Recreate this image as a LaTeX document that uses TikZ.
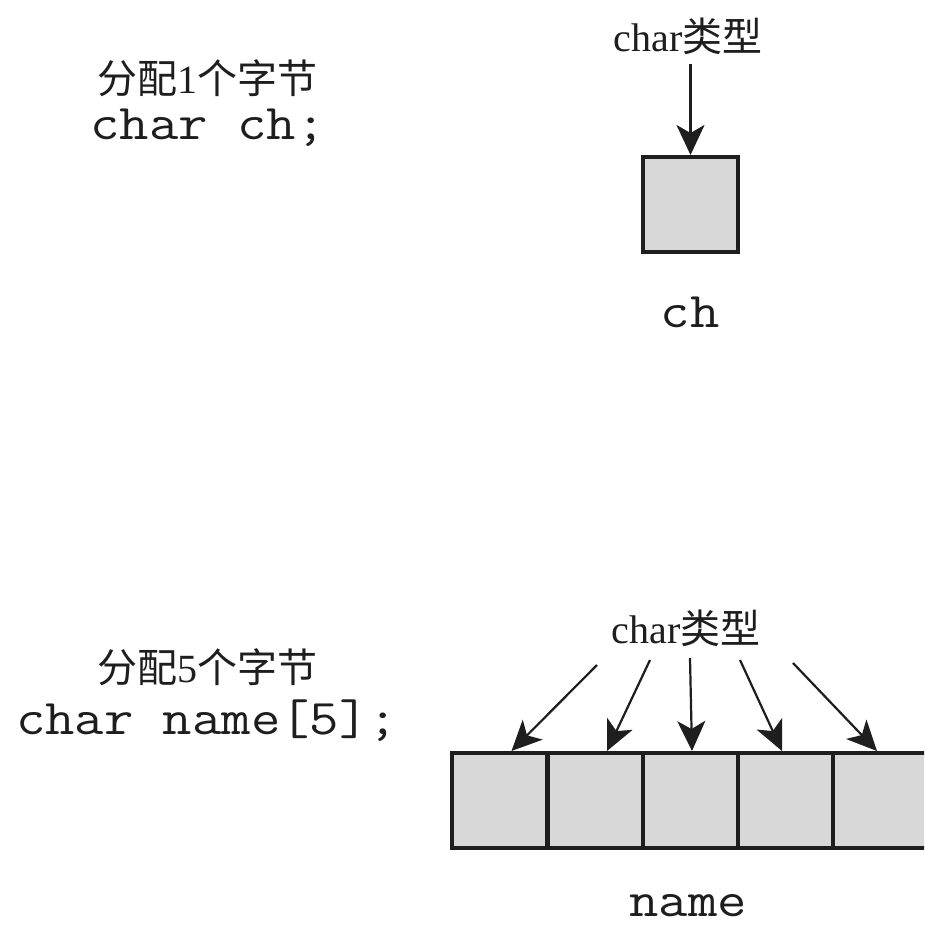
\documentclass[tikz,border=0pt]{standalone}
\usepackage{fontspec}
\setmainfont{Liberation Serif}
\setmonofont{Latin Modern Mono}[FakeStretch=1.14]
\newfontfamily\cjk{Noto Sans CJK SC}
\usetikzlibrary{arrows.meta}
\definecolor{cellgray}{HTML}{D8D8D8}
\definecolor{ink}{HTML}{1E1E1E}
\tikzset{
  cell/.style={draw=ink, fill=cellgray, line width=4pt, minimum size=95pt, inner sep=0pt},
  arr/.style={draw=ink, line width=2.2pt, -{Stealth[length=30pt,width=28pt,inset=8pt]}},
  lbl/.style={text=ink, font=\fontsize{40}{44}\selectfont, inner sep=0pt},
  code/.style={text=ink, font=\fontsize{50}{54}\selectfont\ttfamily, inner sep=0pt}
}
\begin{document}
\begin{tikzpicture}[x=1pt,y=-1pt]
\useasboundingbox (0,0) rectangle (924,929);
\clip (0,0) rectangle (924,929);
\fill[white] (0,0) rectangle (924,929);
% top part
\node[lbl] (t1) at (688,36) {char{\cjk 类型}};
\node[lbl] (h1) at (207,78) {{\cjk 分配}1{\cjk 个字节}};
\node[code] (d1) at (208,128) {char ch;};
\node[cell] (b) at (690.5,204.5) {};
\node[code] (n1) at (690,312) {ch};
\coordinate (a0) at (690.5,64);
\draw[arr] (a0) -- (b.north);
% bottom part
\node[lbl] (t2) at (686,628) {char{\cjk 类型}};
\node[lbl] (h2) at (207,667) {{\cjk 分配}5{\cjk 个字节}};
\node[code] (d2) at (207,721) {char name[5];};
\node[cell] (c1) at (499.5,800.5) {};
\node[cell] (c2) at (595,800.5) {};
\node[cell] (c3) at (690.5,800.5) {};
\node[cell] (c4) at (785.5,800.5) {};
\node[cell] (c5) at (880.5,800.5) {};
\node[code] (n2) at (688,906) {name};
\coordinate (s1) at (597,665);
\coordinate (s2) at (650,660);
\coordinate (s3) at (690,658);
\coordinate (s4) at (740,660);
\coordinate (s5) at (793,663);
\draw[arr] (s1) -- ([xshift=12pt]c1.north);
\draw[arr] (s2) -- ([xshift=12pt]c2.north);
\draw[arr] (s3) -- ([xshift=1.5pt]c3.north);
\draw[arr] (s4) -- ([xshift=-3.5pt]c4.north);
\draw[arr] (s5) -- ([xshift=-3.5pt]c5.north);
\end{tikzpicture}
\end{document}
